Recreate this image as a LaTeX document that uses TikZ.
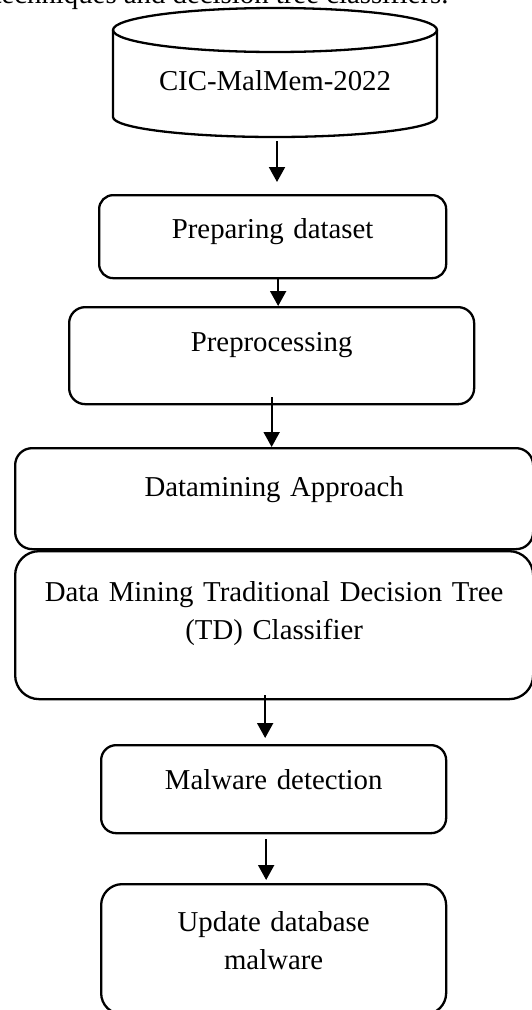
\documentclass[tikz,border=0pt]{standalone}
\usepackage{fontspec}
\setmainfont{Liberation Serif}
\usetikzlibrary{positioning}
\usetikzlibrary{arrows.meta}

\begin{document}
\begin{tikzpicture}
[x=1pt,y=-1pt,
 txt/.style={font=\fontsize{28.8}{38}\selectfont},
 box/.style={txt,shape=rectangle,draw,line width=2.3pt,inner sep=0pt,
   anchor=north west,align=center},
 flow/.style={line width=2pt,-{Triangle[length=15pt,width=16pt]}}]

\useasboundingbox (0,0) rectangle (531,1010);

\node (intro) [txt,anchor=base west] at (-10,3)
	{techniques and decision tree classifiers.};

\draw [line width=2.3pt] (275,30) ellipse [x radius=162,y radius=22];
\draw [line width=2.3pt] (113,30) -- (113,117)
	arc [start angle=180,end angle=0,x radius=162,y radius=20] -- (437,30);
\node (db) [txt,anchor=base] at (275,90) {CIC-MalMem-2022};
\coordinate (dbout) at (277,141);

\node (prep) [box,rounded corners=14pt,text width=347pt,
	text height=43pt,text depth=40pt] at (98,194) {Preparing dataset};
\node (preproc) [box,rounded corners=16pt,text width=405pt,
	text height=44pt,text depth=53pt] at (68,306) {Preprocessing};
\node (mining) [box,rounded corners=17pt,text width=518pt,
	text height=48pt,text depth=53pt] at (14,447) {Datamining Approach};
\node (tdc) [box,rounded corners=24pt,text width=518pt,
	text height=50pt,text depth=98pt] at (14,550)
	{Data Mining Traditional Decision Tree\\(TD) Classifier};
\node (detect) [box,rounded corners=15pt,text width=345pt,
	text height=44pt,text depth=44pt] at (100,744) {Malware detection};
\node (update) [box,rounded corners=21pt,text width=345pt,
	text height=47pt,text depth=83pt] at (100,883)
	{Update database\\malware};

\draw [flow] (dbout) -- ([yshift=12pt]dbout |- prep.north);
\draw [flow] ([xshift=5.5pt]prep.south) -- ([xshift=5.5pt]prep.south |- preproc.north);
\draw [flow] ([yshift=8pt]preproc.south) -- (preproc.south |- mining.north);
\draw [flow] ([xshift=-9pt,yshift=5pt]tdc.south)
	-- ([xshift=-9pt,yshift=6pt]tdc.south |- detect.north);
\draw [flow] ([xshift=-7.5pt,yshift=-5pt]detect.south)
	-- ([xshift=-7.5pt,yshift=3pt]detect.south |- update.north);
\end{tikzpicture}
\end{document}
